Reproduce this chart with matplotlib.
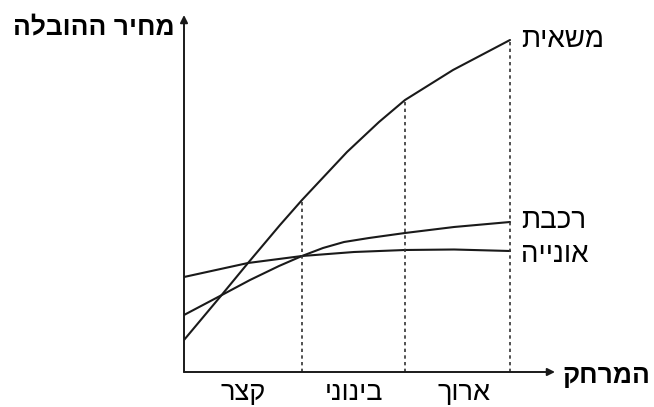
import numpy as np
import matplotlib
matplotlib.use("Agg")
import matplotlib.pyplot as plt

plt.rcParams['font.family'] = ['Liberation Sans', 'DejaVu Sans']

def heb(s):
    # matplotlib has no bidi support: reverse Hebrew for right-to-left display
    return s[::-1]

# distance (arbitrary units) and transport price (arbitrary units)
truck_x = [0, 0.36, 0.64, 0.96, 1.18, 1.63, 1.95, 2.21, 2.69, 3.26]
truck_y = [0.32, 0.75, 1.09, 1.47, 1.72, 2.20, 2.50, 2.72, 3.02, 3.32]
train_x = [0, 0.36, 0.66, 0.95, 1.18, 1.39, 1.60, 1.85, 2.21, 2.70, 3.26]
train_y = [0.57, 0.76, 0.92, 1.06, 1.16, 1.24, 1.30, 1.34, 1.39, 1.45, 1.50]
ship_x = [0, 0.64, 1.18, 1.70, 2.21, 2.70, 3.26]
ship_y = [0.95, 1.09, 1.16, 1.20, 1.22, 1.225, 1.21]

boundaries = [1.18, 2.21, 3.26]
categories = ['קצר', 'בינוני', 'ארוך']
category_x = [0.59, 1.70, 2.80]
series_names = ['משאית', 'רכבת', 'אונייה']
series_label_y = [3.32, 1.51, 1.17]
xlabel = 'המרחק'
ylabel = 'מחיר ההובלה'

fig = plt.figure(figsize=(6.54, 4.07), dpi=100)
ax = fig.add_axes([184/654, 35/407, 371/654, 357/407])
ax.set_xlim(0, 3.71)
ax.set_ylim(0, 3.57)
ax.axis('off')

col = '#1a1a1a'
for xs, ys in [(truck_x, truck_y), (train_x, train_y), (ship_x, ship_y)]:
    ax.plot(xs, ys, color=col, lw=1.5, solid_capstyle='round', solid_joinstyle='round')

for b in boundaries:
    top = np.interp(b, truck_x, truck_y)
    ax.plot([b, b], [0, top], color='#333333', lw=1.2, linestyle=(0, (2.0, 2.0)))

# axes with arrows
arr = dict(arrowstyle='-|>', lw=1.4, color=col, mutation_scale=11, shrinkA=0, shrinkB=0)
ax.annotate('', xy=(0, 1), xytext=(0, 0), xycoords='axes fraction', arrowprops=arr, annotation_clip=False)
ax.annotate('', xy=(1, 0), xytext=(0, 0), xycoords='axes fraction', arrowprops=arr, annotation_clip=False)

for name, y in zip(series_names, series_label_y):
    ax.text(3.37, y, heb(name), fontsize=20, ha='left', va='center', color='black')

for c, x in zip(categories, category_x):
    ax.text(x, -0.21, heb(c), fontsize=19.5, ha='center', va='center', color='black')

fig.text(175/654, 1 - 27/407, heb(ylabel), fontsize=19, fontweight='bold', ha='right', va='center')
fig.text(650/654, 1 - 376/407, heb(xlabel), fontsize=19, fontweight='bold', ha='right', va='center')

fig.savefig('out.png', dpi=100)
